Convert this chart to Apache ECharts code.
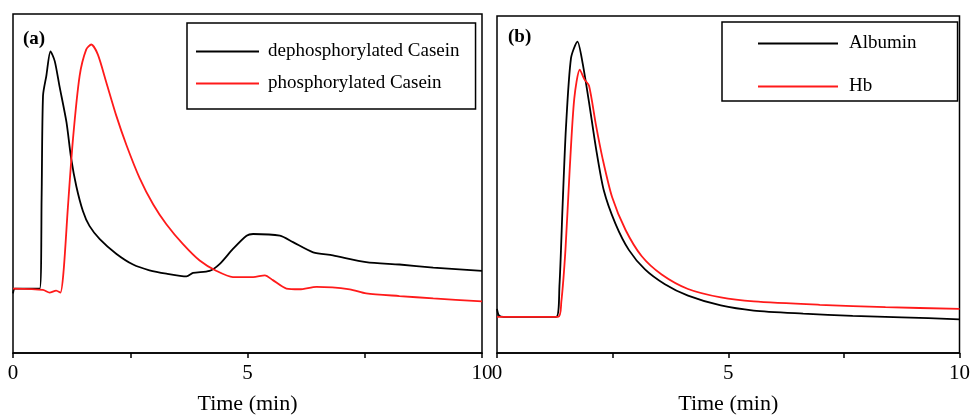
<!DOCTYPE html>
<html>
<head>
    <meta charset="utf-8">
    <title>Time (min)</title>
    <script src="https://cdn.jsdelivr.net/npm/echarts@6/dist/echarts.min.js"></script>
    <style>
        html, body {
            margin: 0;
            padding: 0;
            background: #fff;
        }

        #main {
            width: 973px;
            height: 420px;
        }
    </style>
</head>
<body>
<div id="main"></div>
<script>
    // 横轴刻度
    var xTicks = [0, 5, 10];

    // (a) 去磷酸化 / 磷酸化 酪蛋白
    var dephosT = [0, 0.04, 0.57, 0.61, 0.64, 0.71, 0.80, 0.89, 0.99, 1.14, 1.24, 1.35, 1.49, 1.63, 1.85, 2.20, 2.56, 2.91, 3.27, 3.70, 3.84, 4.19, 4.41, 4.69, 4.98, 5.12, 5.69, 5.97, 6.40, 6.82, 7.53, 8.24, 8.96, 10];
    var dephosY = [17.6, 19.0, 19.0, 45.8, 75.9, 81.7, 89.0, 86.1, 78.8, 68.1, 57.4, 49.2, 41.9, 37.5, 33.6, 29.3, 26.1, 24.4, 23.4, 22.6, 23.6, 24.2, 26.3, 30.7, 34.6, 35.1, 34.6, 32.7, 29.7, 28.8, 26.8, 26.1, 25.2, 24.2];

    var phosT = [0, 0.64, 0.78, 0.92, 1.01, 1.08, 1.17, 1.28, 1.42, 1.56, 1.67, 1.81, 1.99, 2.20, 2.42, 2.70, 2.99, 3.27, 3.62, 3.98, 4.34, 4.69, 5.12, 5.37, 5.54, 5.83, 6.11, 6.47, 7.18, 7.53, 8.24, 8.96, 10];
    var phosY = [19.0, 18.6, 17.8, 18.4, 17.8, 24.4, 42.9, 63.3, 81.7, 89.5, 91.0, 88.0, 79.8, 70.1, 61.3, 51.6, 43.8, 38.0, 32.2, 27.3, 24.2, 22.4, 22.4, 22.9, 21.5, 19.0, 18.8, 19.5, 18.8, 17.6, 16.8, 16.1, 15.2];

    // (b) Albumin / Hb
    var albuminT = [0, 0.04, 0.14, 1.28, 1.35, 1.42, 1.49, 1.60, 1.74, 1.85, 1.99, 2.14, 2.31, 2.56, 2.85, 3.20, 3.63, 4.13, 4.84, 5.55, 6.62, 7.69, 8.75, 10];
    var albuminY = [13.1, 11.2, 10.7, 10.7, 19.9, 44.3, 66.6, 87.5, 92.4, 86.1, 74.4, 60.8, 48.2, 38.4, 30.6, 24.8, 20.4, 17.0, 14.1, 12.6, 11.7, 11.0, 10.6, 10.0];

    var hbT = [0, 1.32, 1.39, 1.48, 1.57, 1.67, 1.79, 1.89, 1.99, 2.14, 2.28, 2.49, 2.78, 3.13, 3.56, 4.13, 4.84, 5.55, 6.98, 8.40, 10];
    var hbY = [10.7, 10.7, 15.1, 30.6, 54.0, 75.4, 84.1, 81.2, 79.3, 67.6, 57.9, 46.2, 36.5, 28.7, 23.3, 19.0, 16.5, 15.3, 14.3, 13.6, 13.1];

    function pairs(t, y) {
        var out = [];
        for (var i = 0; i < t.length; i++) {
            out.push([t[i], y[i]]);
        }
        return out;
    }

    var serif = '"Liberation Serif", "DejaVu Serif", serif';

    function xAxisOf(gridIndex) {
        return {
            type: 'value',
            gridIndex: gridIndex,
            min: 0,
            max: 10,
            interval: 2.5,
            name: 'Time (min)',
            nameLocation: 'middle',
            nameGap: 40,
            nameTextStyle: {color: '#000', fontFamily: serif, fontSize: 22},
            axisLine: {show: true, lineStyle: {color: '#000', width: 1.5}},
            axisTick: {show: true, inside: false, length: 5, lineStyle: {color: '#000', width: 1.5}},
            axisLabel: {
                color: '#000',
                fontFamily: serif,
                fontSize: 21,
                margin: 10,
                formatter: function (v) {
                    return xTicks.indexOf(v) >= 0 ? String(v) : '';
                }
            },
            splitLine: {show: false}
        };
    }

    function yAxisOf(gridIndex) {
        return {
            type: 'value',
            gridIndex: gridIndex,
            min: 0,
            max: 100,
            axisLine: {show: false},
            axisTick: {show: false},
            axisLabel: {show: false},
            splitLine: {show: false}
        };
    }

    function lineOf(name, data, color, idx) {
        return {
            name: name,
            type: 'line',
            xAxisIndex: idx,
            yAxisIndex: idx,
            data: data,
            symbol: 'none',
            smooth: 0.25,
            lineStyle: {color: color, width: 1.8},
            itemStyle: {color: color}
        };
    }

    var myChart = echarts.init(document.getElementById('main'), null, {renderer: 'canvas'});
    var option = {
        backgroundColor: '#fff',
        animation: false,
        title: [
            {text: '(a)', left: 18, top: 25, textStyle: {fontFamily: serif, fontSize: 19, fontWeight: 'bold', color: '#000'}},
            {text: '(b)', left: 503, top: 23, textStyle: {fontFamily: serif, fontSize: 19, fontWeight: 'bold', color: '#000'}}
        ],
        grid: [
            {left: 13, right: 491, top: 14, bottom: 63, show: true, borderColor: '#000', borderWidth: 1.5},
            {left: 497, right: 8, top: 16, bottom: 62, show: true, borderColor: '#000', borderWidth: 1.5}
        ],
        legend: [
            {
                data: ['dephosphorylated Casein', 'phosphorylated Casein'],
                orient: 'vertical',
                left: 187,
                top: 23,
                padding: [19, 16, 16, 9],
                icon: 'rect',
                itemWidth: 63,
                itemHeight: 2,
                itemGap: 13,
                borderColor: '#000',
                borderWidth: 1.5,
                textStyle: {fontFamily: serif, fontSize: 19, color: '#000', padding: [0, 0, 0, 4]}
            },
            {
                data: ['Albumin', 'Hb'],
                orient: 'vertical',
                left: 722,
                top: 22,
                padding: [12, 41, 5, 36],
                icon: 'rect',
                itemWidth: 80,
                itemHeight: 2,
                itemGap: 24,
                borderColor: '#000',
                borderWidth: 1.5,
                textStyle: {fontFamily: serif, fontSize: 19, color: '#000', padding: [0, 0, 0, 6]}
            }
        ],
        xAxis: [xAxisOf(0), xAxisOf(1)],
        yAxis: [yAxisOf(0), yAxisOf(1)],
        series: [
            lineOf('dephosphorylated Casein', pairs(dephosT, dephosY), '#000', 0),
            lineOf('phosphorylated Casein', pairs(phosT, phosY), '#ff1a1a', 0),
            lineOf('Albumin', pairs(albuminT, albuminY), '#000', 1),
            lineOf('Hb', pairs(hbT, hbY), '#ff1a1a', 1)
        ]
    };
    myChart.setOption(option);
</script>
</body>
</html>
